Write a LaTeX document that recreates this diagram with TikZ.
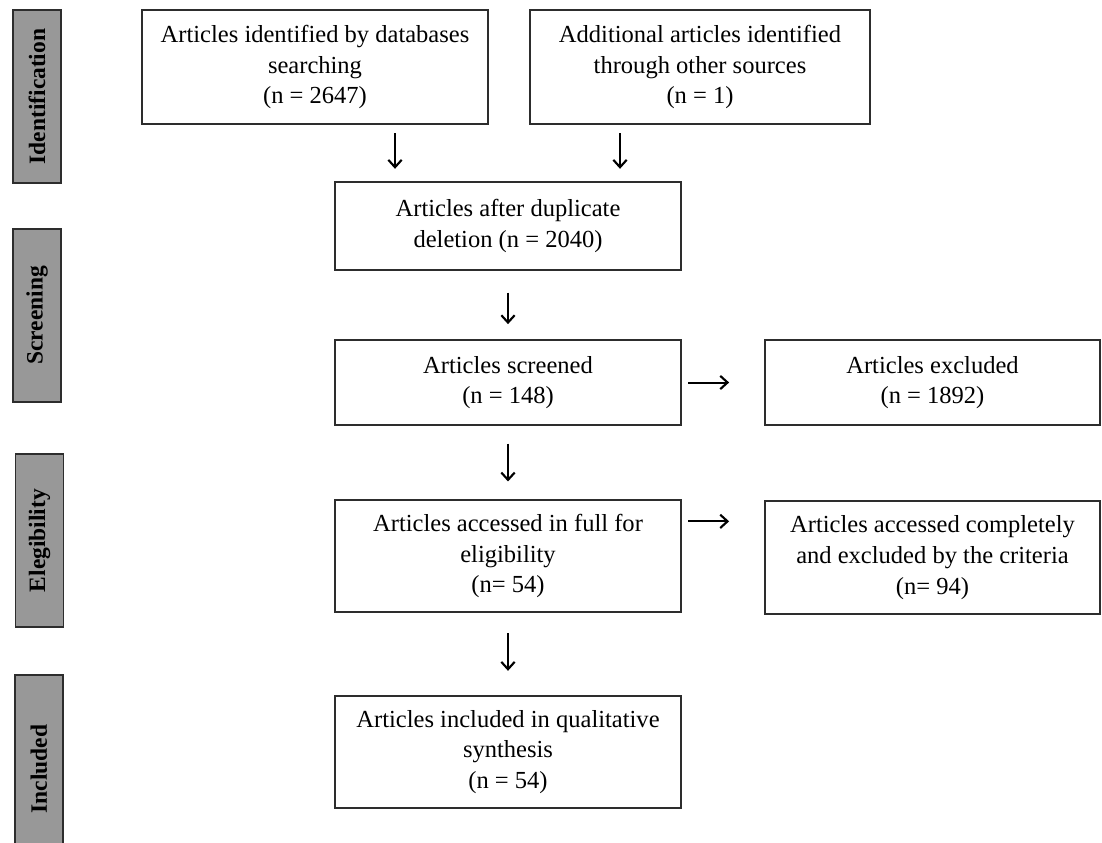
\documentclass[tikz,border=0pt]{standalone}
\usepackage{fontspec}
\setmainfont{Liberation Serif}
\usetikzlibrary{arrows.meta}

\definecolor{boxline}{RGB}{45,45,45}
\definecolor{barfill}{RGB}{152,152,152}

\begin{document}
\begin{tikzpicture}[x=0.75pt, y=-0.75pt,
	main box/.style={draw=boxline, line width=1.8pt, align=center, inner sep=2pt,
		minimum width=259.5pt, font=\fontsize{18.4}{23}\selectfont},
	side box/.style={main box, minimum width=251.25pt},
	stage bar/.style={draw=boxline, line width=1.2pt, fill=barfill, rotate=90,
		minimum width=129.75pt, minimum height=36pt, inner sep=0pt,
		font=\fontsize{17.6}{20}\selectfont\bfseries},
	flow/.style={line width=1.5pt, -{Straight Barb[length=5.5pt, width=10pt, line width=1.6pt]}}]
	
	\clip (0,0) rectangle (1102,842);
	
	% stage bars
	\node[stage bar] (idbar) at (37,96.5) {Identification};
	\node[stage bar] (scbar) at (37,315.5) {Screening};
	\node[stage bar] (elbar) at (39.5,540.5) {Elegibility};
	\node[stage bar, minimum width=141pt] (inbar) at (39,769) {Included};
	
	% boxes
	\node[main box, minimum height=85.5pt] (db) at (315,67)
		{Articles identified by databases\\ searching\\ (n = 2647)};
	\node[main box, minimum width=255pt, minimum height=85.5pt] (other) at (700,67)
		{Additional articles identified\\ through other sources\\ (n = 1)};
	\node[main box, minimum height=66pt] (dup) at (508,226)
		{Articles after duplicate\\ deletion (n = 2040)};
	\node[main box, minimum height=63.75pt] (screen) at (508,382.5)
		{Articles screened\\ (n = 148)};
	\node[side box, minimum height=63.75pt] (excl) at (932.5,382.5)
		{Articles excluded\\ (n = 1892)};
	\node[main box, minimum height=84pt] (full) at (508,556)
		{Articles accessed in full for\\ eligibility\\ (n= 54)};
	\node[side box, minimum height=84.75pt] (exclfull) at (932.5,557.5)
		{Articles accessed completely\\ and excluded by the criteria\\ (n= 94)};
	\node[main box, minimum height=84pt] (incl) at (508,752)
		{Articles included in qualitative\\ synthesis\\ (n = 54)};
	
	% arrows
	\path[flow]
	([xshift=60pt]db.south) edge[shorten <=6pt, shorten >=9pt] ([xshift=60pt]db.south |- dup.north)
	([xshift=-60pt]other.south) edge[shorten <=6pt, shorten >=9pt] ([xshift=-60pt]other.south |- dup.north)
	(dup) edge[shorten <=16pt, shorten >=11pt] (screen)
	(screen) edge[shorten <=13pt, shorten >=13pt] (full)
	(full) edge[shorten <=15pt, shorten >=18pt] (incl)
	(screen) edge[shorten <=4.5pt, shorten >=26pt] (excl)
	([yshift=26pt]full.east) edge[shorten <=4.5pt, shorten >=26pt] ([yshift=26pt]full.east -| exclfull.west);
	
\end{tikzpicture}
\end{document}
